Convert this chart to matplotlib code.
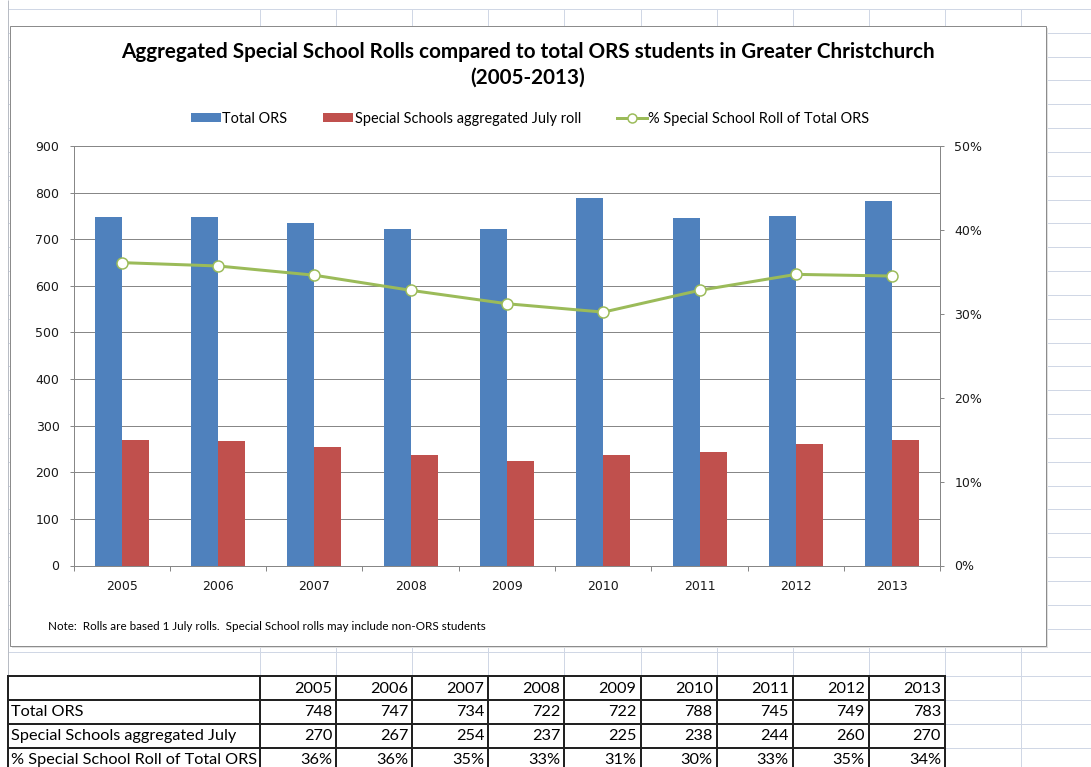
import matplotlib
matplotlib.use('Agg')
import matplotlib.pyplot as plt
from matplotlib.patches import Rectangle, Patch
from matplotlib.lines import Line2D
import numpy as np

# ---------------- data ----------------
years = ['2005', '2006', '2007', '2008', '2009', '2010', '2011', '2012', '2013']
total_ors = [748, 747, 734, 722, 722, 788, 745, 749, 783]
special_roll = [270, 267, 254, 237, 225, 238, 244, 260, 270]
pct_special = [36.1, 35.7, 34.6, 32.8, 31.2, 30.2, 32.8, 34.7, 34.5]
pct_table = ['36%', '36%', '35%', '33%', '31%', '30%', '33%', '35%', '34%']
series_names = ['Total ORS', 'Special Schools aggregated July roll',
                '% Special School Roll of Total ORS']
row_labels = ['Total ORS', 'Special Schools aggregated July',
              '% Special School Roll of Total ORS']
title1 = 'Aggregated Special School Rolls compared to total ORS students in Greater Christchurch'
title2 = '(2005-2013)'
note = 'Note:  Rolls are based 1 July rolls.  Special School rolls may include non-ORS students'
y_left_ticks = list(range(0, 901, 100))
y_right_ticks = [0, 10, 20, 30, 40, 50]

BLUE = '#4F81BD'
RED = '#C0504D'
GREEN = '#9BBB59'
AXC = '#878787'
GRIDC = '#D0D7E5'
CAL = ['Lato', 'DejaVu Sans']

W, H = 1091, 767
fig = plt.figure(figsize=(W / 100, H / 100), dpi=100)
renderer = fig.canvas.get_renderer()

bg = fig.add_axes([0, 0, 1, 1])
bg.set_xlim(0, W)
bg.set_ylim(H, 0)
bg.axis('off')

PX = 0.72  # points per pixel

# spreadsheet grid
row_y = [9 + 23.83 * k for k in range(34)]
col_x = [8, 260] + [260 + 76.1 * i for i in range(1, 11)]
for y in row_y:
    bg.plot([8, W], [y, y], color=GRIDC, lw=1 * PX, zorder=0, solid_capstyle='butt')
for x in col_x:
    bg.plot([x, x], [0 if x == 8 else 9, H], color=GRIDC if x != 8 else '#B8BCC4',
            lw=1 * PX, zorder=0, solid_capstyle='butt')

# chart box with faint shadow
bg.add_patch(Rectangle((11.5, 27.5), 1036, 620, facecolor='#E0E0E0', edgecolor='none', zorder=1))
bg.add_patch(Rectangle((10, 26), 1036, 620, facecolor='white', edgecolor='#8C8C8C',
                       lw=1 * PX, zorder=2))


def fit(t, target):
    w = t.get_window_extent(renderer).width
    t.set_fontsize(t.get_fontsize() * target / w)
    return t.get_fontsize()


# title
t1 = bg.text(528, 52, title1, ha='center', va='center', fontweight='bold',
             family=CAL, fontsize=12, color='black', zorder=3)
fs_title = fit(t1, 807)
bg.text(528, 78, title2, ha='center', va='center', fontweight='bold',
        family=CAL, fontsize=fs_title, color='black', zorder=3)

# note
tn = bg.text(48, 627, note, ha='left', va='center', family=CAL, fontsize=7, zorder=3)
fit(tn, 439)

# ---------------- main chart ----------------
L, R, T, B = 73.5, 940.5, 146, 565.5
ax = fig.add_axes([L / W, 1 - B / H, (R - L) / W, (B - T) / H])
ax.set_zorder(3)
x = np.arange(len(years))
ax.bar(x - 0.14, total_ors, width=0.28, color=BLUE, zorder=2)
ax.bar(x + 0.14, special_roll, width=0.28, color=RED, zorder=2)
ax.set_xlim(-0.5, len(years) - 0.5)
ax.set_ylim(0, 900)
ax.set_yticks(y_left_ticks)
ax.yaxis.grid(True, color=AXC, lw=1 * PX)
ax.set_axisbelow(True)
for s in ['left', 'bottom', 'right']:
    ax.spines[s].set_color(AXC)
    ax.spines[s].set_linewidth(1 * PX)
ax.spines['top'].set_visible(False)
ax.set_xticks(x)
ax.set_xticklabels(years)
ax.set_xticks(np.arange(-0.5, len(years), 1), minor=True)
ax.tick_params(axis='x', which='major', length=0, pad=15 * PX, labelsize=9,
               labelcolor='#1a1a1a')
ax.tick_params(axis='x', which='minor', length=5 * PX, width=1 * PX, color=AXC,
               direction='out')
ax.tick_params(axis='y', length=4 * PX, width=1 * PX, color=AXC, direction='out',
               pad=10 * PX, labelsize=9, labelcolor='#1a1a1a')

ax2 = ax.twinx()
ax2.set_ylim(0, 50)
ax2.set_yticks(y_right_ticks)
ax2.set_yticklabels([f'{v}%' for v in y_right_ticks])
ax2.plot(x, pct_special, color=GREEN, lw=3 * PX, marker='o', ms=11 * PX,
         mfc='white', mec=GREEN, mew=1.5 * PX, zorder=5)
for s in ['left', 'bottom', 'right']:
    ax2.spines[s].set_color(AXC)
    ax2.spines[s].set_linewidth(1 * PX)
ax2.spines['top'].set_visible(False)
ax2.tick_params(axis='y', length=4 * PX, width=1 * PX, color=AXC, direction='out',
                pad=10 * PX, labelsize=9, labelcolor='#1a1a1a')

# legend
tmp = bg.text(0, 0, series_names[1], family=CAL, fontsize=9)
fs_leg = fit(tmp, 226)
tmp.remove()
em = fs_leg / PX  # font size in px
handles = [Patch(facecolor=BLUE, edgecolor='none'),
           Patch(facecolor=RED, edgecolor='none'),
           Line2D([], [], color=GREEN, lw=3 * PX, marker='o', ms=9 * PX,
                  mfc='white', mec=GREEN, mew=1.5 * PX)]
leg = fig.legend(handles, series_names, loc='center',
                 bbox_to_anchor=(530 / W, 1 - 119 / H), ncol=3, frameon=False,
                 prop={'family': CAL, 'size': fs_leg}, handlelength=30 / em,
                 handleheight=0.6, handletextpad=0.1, columnspacing=36 / em,
                 borderpad=0)

# ---------------- data table ----------------
t_top = row_y[28]
t_rows = [row_y[28 + i] for i in range(5)]
t_cols = col_x[1:11]
bg.add_patch(Rectangle((8, t_top), t_cols[-1] - 8, t_rows[-1] - t_top,
                       facecolor='white', edgecolor='none', zorder=3))
for y in t_rows:
    bg.plot([8, t_cols[-1]], [y, y], color='#222222', lw=2 * PX, zorder=4,
            solid_capstyle='projecting')
for xx in [8] + t_cols:
    bg.plot([xx, xx], [t_top, t_rows[-1]], color='#222222', lw=2 * PX, zorder=4,
            solid_capstyle='projecting')

tl = bg.text(11, (t_rows[3] + t_rows[4]) / 2 + 0.5, row_labels[2], ha='left',
             va='center', family=CAL, fontsize=11, zorder=5)
fs_tab = fit(tl, 246)
for i, lab in enumerate(row_labels[:2]):
    bg.text(11, (t_rows[i + 1] + t_rows[i + 2]) / 2 + 0.5, lab, ha='left',
            va='center', family=CAL, fontsize=fs_tab, zorder=5)
table_rows = [years, [str(v) for v in total_ors], [str(v) for v in special_roll],
              pct_table]
for r, vals in enumerate(table_rows):
    yc = (t_rows[r] + t_rows[r + 1]) / 2 + 0.5
    for c, v in enumerate(vals):
        bg.text(t_cols[c + 1] - 4, yc, v, ha='right', va='center', family=CAL,
                fontsize=fs_tab, zorder=5)

fig.savefig('out.png', dpi=100)
